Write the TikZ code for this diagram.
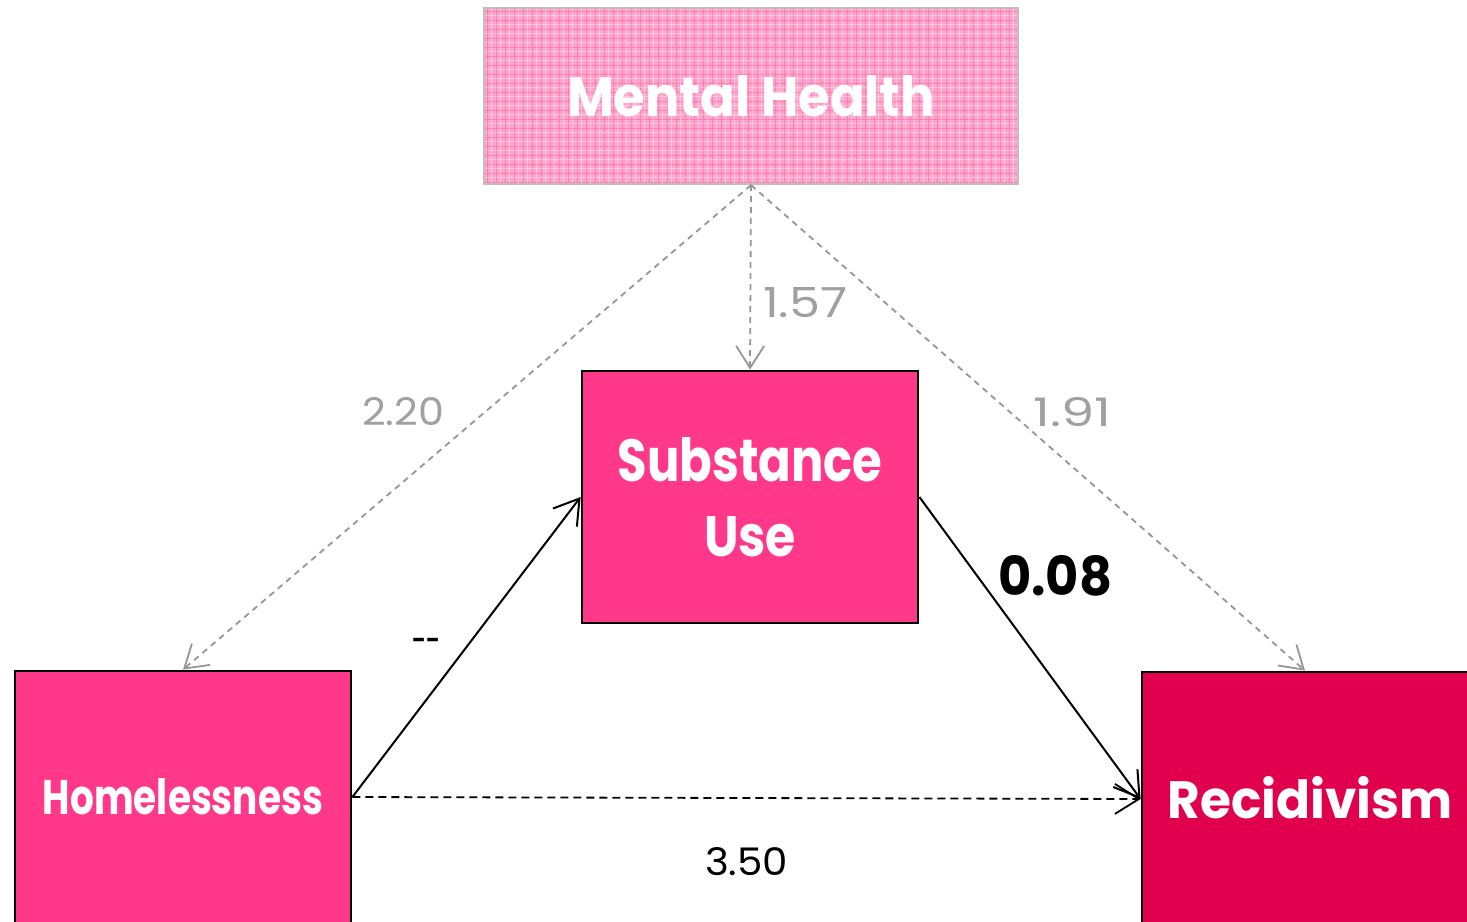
\documentclass[tikz,border=0pt]{standalone}
\usepackage{fontspec}
\usepackage{graphicx}
\newfontfamily\pop{Poppins}
\usetikzlibrary{arrows.meta}
\definecolor{hotpink}{RGB}{255,56,138}
\definecolor{crimson}{RGB}{224,0,77}
\definecolor{mhpink}{RGB}{255,165,204}
\definecolor{mhgrid}{RGB}{255,125,180}
\definecolor{mhborder}{RGB}{191,191,191}
\definecolor{numgray}{RGB}{160,160,160}
\definecolor{linegray}{RGB}{150,150,150}
\newcommand{\fitt}[3]{\resizebox{#1pt}{#2pt}{#3}}
\begin{document}
\begin{tikzpicture}[x=1pt,y=-1pt,
  box/.style={draw=black,line width=2.8pt,fill=hotpink,inner sep=0pt,text=white,
    font=\pop\bfseries\fontsize{56}{75}\selectfont,align=center,
    minimum width=336pt,minimum height=252pt},
  graydash/.style={draw=linegray,line width=1.8pt,dash pattern=on 6pt off 5pt,
    -{Straight Barb[length=22pt,width=28pt]}},
  solidarr/.style={draw=black,line width=2pt,-{Straight Barb[length=24pt,width=30pt]}},
  dasharr/.style={draw=black,line width=1.8pt,dash pattern=on 8pt off 5pt,
    -{Straight Barb[length=24pt,width=30pt]}},
  lbl/.style={inner sep=0pt,anchor=base west},
  graylbl/.style={lbl,text=numgray,font=\pop\fontsize{40}{48}\selectfont},
  blacklbl/.style={lbl,text=black,font=\pop\fontsize{40}{48}\selectfont}]
\useasboundingbox (0,0) rectangle (1467,921);
% Mental Health patterned fill
\fill[mhpink] (484,8) rectangle (1018,184);
\begin{scope}
\clip (484,8) rectangle (1018,184);
\foreach \gx in {487,496,...,1018} \draw[mhgrid,line width=1pt] (\gx,8) -- (\gx,184);
\foreach \gy in {11,20,...,184} \draw[mhgrid,line width=1pt] (484,\gy) -- (1018,\gy);
\foreach \gx in {491.5,500.5,...,1018} \draw[white,opacity=0.35,line width=0.8pt] (\gx,8) -- (\gx,184);
\foreach \gy in {15.5,24.5,...,184} \draw[white,opacity=0.35,line width=0.8pt] (484,\gy) -- (1018,\gy);
\end{scope}
\node[draw=mhborder,line width=2.2pt,inner sep=0pt,minimum width=534pt,minimum height=176pt,
  text=white,font=\pop\bfseries\fontsize{56}{75}\selectfont] (mh) at (751,96) {\fitt{368}{41}{Mental Health}};
% main boxes
\node[box] (su) at (750,497) {\fitt{265}{44}{Substance}\\\fitt{92}{40}{Use}};
\node[box] (hom) at (183,797) {\fitt{280}{36}{Homelessness}};
\node[box,fill=crimson] (rec) at (1310,798) {\fitt{285}{42}{Recidivism}};
% connectors
\draw[graydash] (mh.south) -- (hom.north);
\draw[graydash] (mh.south) -- (su.north);
\draw[graydash] (mh.south) -- ([xshift=-5pt]rec.north);
\draw[solidarr] (hom.east) -- (su.west);
\draw[solidarr] (su.east) -- ([yshift=-1pt]rec.west);
\draw[dasharr] (hom.east) -- ([yshift=-1pt]rec.west);
% labels
\node[graylbl] (l220) at (362,425) {\fitt{82}{28}{2.20}};
\node[graylbl] (l157) at (763,317) {\fitt{84}{30}{1.57}};
\node[graylbl] (l191) at (1033,426) {\fitt{78}{29}{1.91}};
\node[blacklbl,font=\pop\bfseries\fontsize{40}{48}\selectfont] (l008) at (998,595) {\fitt{114}{40}{0.08}};
\node[blacklbl] (l350) at (705,875) {\fitt{83}{28}{3.50}};
\node[inner sep=0pt,anchor=center,font=\pop\bfseries\fontsize{40}{48}\selectfont] (ldash) at (426,643) {\resizebox{28pt}{!}{-{}-}};
\end{tikzpicture}
\end{document}
